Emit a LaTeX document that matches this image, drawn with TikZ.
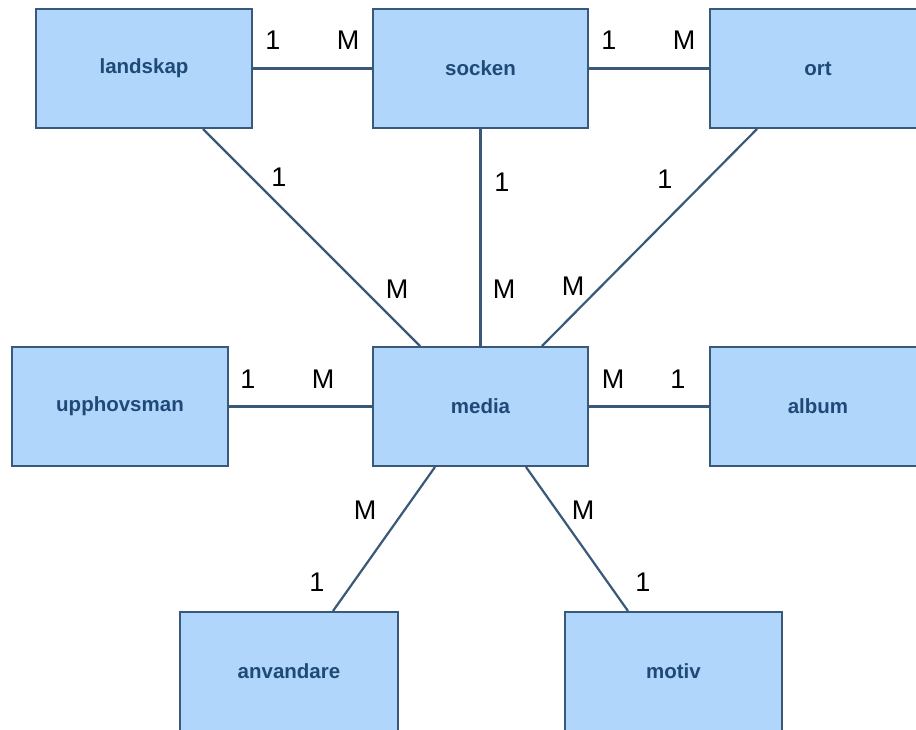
\documentclass[tikz,border=0pt]{standalone}
\usepackage{fontspec}
\setmainfont{Liberation Sans}
\usetikzlibrary{calc}
\definecolor{boxfill}{HTML}{B1D6FB}
\definecolor{boxline}{HTML}{3A5878}
\definecolor{boxtext}{HTML}{1F4A78}
\definecolor{linkline}{HTML}{3A5878}
\tikzset{
  entity/.style={draw=boxline, fill=boxfill, line width=2pt, minimum height=119pt,
    inner sep=0pt, font=\fontsize{20.5}{24}\selectfont\bfseries, text=boxtext},
  link/.style={draw=linkline, line width=2.2pt},
  card/.style={inner sep=0pt, font=\fontsize{27}{30}\selectfont, text=black}
}
\begin{document}
\begin{tikzpicture}[x=1pt,y=-1pt]
\useasboundingbox (0,0) rectangle (916,729);
\clip (0,0) rectangle (916,729);
\fill[white] (0,0) rectangle (916,729);
% entities
\node[entity, minimum width=216pt] (landskap) at (144,68.5) {landskap};
\node[entity, minimum width=215pt] (socken) at (480.5,68.5) {socken};
\node[entity, minimum width=216pt] (ort) at (818,68.5) {ort};
\node[entity, minimum width=216pt] (upphovsman) at (120,406.5) {upphovsman};
\node[entity, minimum width=215pt] (media) at (480.5,406.5) {media};
\node[entity, minimum width=216pt] (album) at (818,406.5) {album};
\node[entity, minimum width=218pt] (anvandare) at (289,671.5) {anvandare};
\node[entity, minimum width=217pt] (motiv) at (673.5,671.5) {motiv};
% connectors
\draw[link] (landskap.east) -- (socken.west);
\draw[link] (socken.east) -- (ort.west);
\draw[link] (upphovsman.east) -- (media.west);
\draw[link] (media.east) -- (album.west);
\draw[link] ([xshift=59pt]landskap.south) -- ([xshift=-60.5pt]media.north);
\draw[link] (socken.south) -- (media.north);
\draw[link] ([xshift=-61pt]ort.south) -- ([xshift=61.5pt]media.north);
\draw[link] ([xshift=-45.5pt]media.south) -- ([xshift=44pt]anvandare.north);
\draw[link] ([xshift=45.5pt]media.south) -- ([xshift=-45.5pt]motiv.north);
% cardinalities
\node[card] (c1) at (273,40) {1};
\node[card] (c2) at (348,40) {M};
\node[card] (c3) at (609,40) {1};
\node[card] (c4) at (684,40) {M};
\node[card] (c5) at (279,177) {1};
\node[card] (c6) at (397,289) {M};
\node[card] (c7) at (502,182) {1};
\node[card] (c8) at (504,289) {M};
\node[card] (c9) at (665,179) {1};
\node[card] (c10) at (573,286) {M};
\node[card] (c11) at (248,379) {1};
\node[card] (c12) at (323,379) {M};
\node[card] (c13) at (613,379) {M};
\node[card] (c14) at (678,379) {1};
\node[card] (c15) at (365,510) {M};
\node[card] (c16) at (317,582) {1};
\node[card] (c17) at (583,510) {M};
\node[card] (c18) at (643,582) {1};
\end{tikzpicture}
\end{document}
